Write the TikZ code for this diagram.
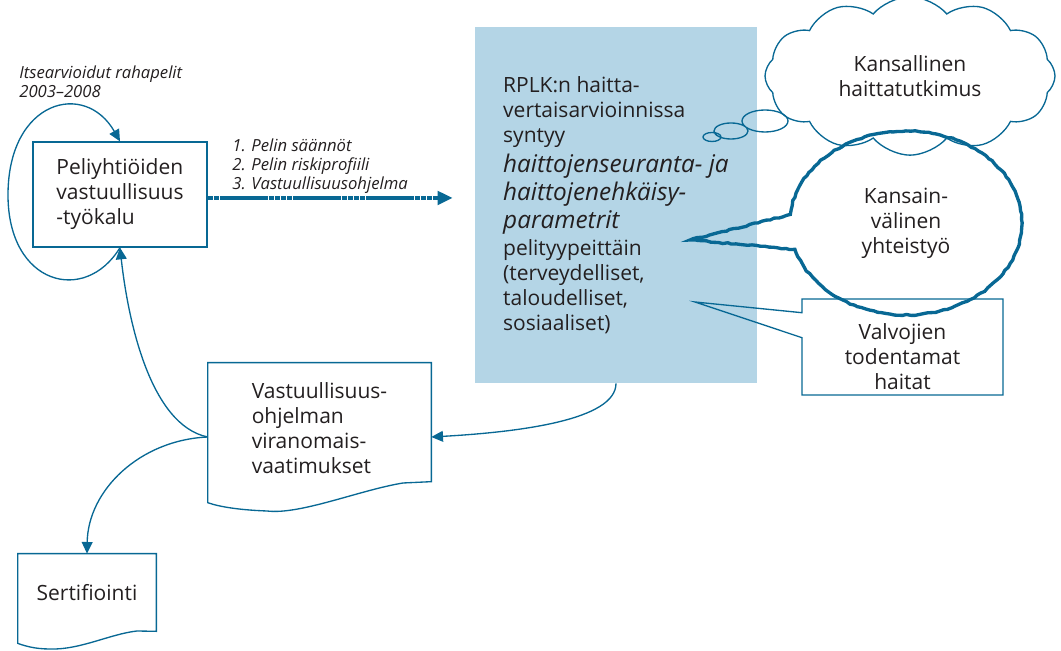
\documentclass[tikz,border=0pt]{standalone}
\usepackage{fontspec}
\setmainfont{Open Sans}
\usetikzlibrary{arrows.meta,calc,shapes.symbols,shapes.callouts,decorations.pathmorphing}

\definecolor{tealline}{RGB}{8,104,148}
\definecolor{paleblue}{RGB}{180,213,230}
\definecolor{inkgray}{RGB}{35,31,32}

\newcommand{\bigit}[1]{{\fontsize{14.6}{16.8}\selectfont\itshape #1}}

\tikzset{
  flow/.style={draw=tealline, line width=0.8pt, -{Triangle[length=7pt,width=6.5pt]}},
  bigflow/.style={draw=tealline, line width=2.4pt, dash pattern=on 3.4pt off 0.25pt,
    -{Triangle[length=9pt,width=8pt]}},
  docline/.style={draw=tealline, line width=0.8pt},
  bodytext/.style={font=\fontsize{12.6}{15}\selectfont, text=inkgray, inner sep=0pt},
  smalllabel/.style={font=\fontsize{10}{11.4}\selectfont\itshape, text=inkgray,
    align=left, inner sep=0pt},
}

\begin{document}
\begin{tikzpicture}[x=0.6pt, y=-0.6pt]
\useasboundingbox (0,0) rectangle (1061,651);

% boxes
\node[bodytext, draw=tealline, line width=0.8pt, align=left,
  minimum width=104.4pt, minimum height=63pt] (tool) at (120,194.5)
  {Peliyhtiöiden\\vastuullisuus\\-työkalu};
\node[smalllabel, anchor=north west] (selfeval) at (19,66) {Itsearvioidut rahapelit\\2003--2008};

\node[bodytext, fill=paleblue, align=left, minimum width=169.2pt, minimum height=213.6pt]
  (rplk) at (616,205)
  {RPLK:n haitta-\\vertaisarvioinnissa\\syntyy\\[3pt]
   \bigit{haittojenseuranta- ja}\\[1.8pt]\bigit{haittojenehkäisy-}\\[1.8pt]
   \bigit{parametrit}\\[1.2pt]pelityypeittäin\\(terveydelliset,\\taloudelliset,\\sosiaaliset)};

\node[smalllabel, anchor=north west] (rules) at (232,139)
  {1. Pelin säännöt\\2. Pelin riskiprofiili\\3. Vastuullisuusohjelma};

% documents
\node[bodytext, align=left, minimum width=133.8pt, minimum height=78pt] (req) at (319.5,428)
  {Vastuullisuus-\\ohjelman\\viranomais-\\vaatimukset};
\draw[docline] ($(req.north east)+(0,119)$) -- (req.north east) -- (req.north west)
  -- ($(req.north west)+(0,140)$) .. controls (220,507) and (240,510) .. (267,511)
  .. controls (300,515) and (360,490) .. (403,483) -- cycle;

\node[bodytext, minimum width=82.8pt, minimum height=46.2pt] (cert) at (87,592.5) {Sertifiointi};
\draw[docline] (cert.south east) -- (cert.north east) -- (cert.north west)
  -- ($(cert.south west)+(0,12)$) .. controls (25,646) and (35,649) .. (50,649)
  .. controls (80,650) and (110,634) .. (137,631) -- cycle;

% cloud and callouts
\node[cloud, cloud puffs=12, cloud puff arc=100, aspect=2.1, draw=tealline, line width=0.8pt,
  minimum width=174pt, minimum height=95pt, bodytext, align=center] (national)
  at (910,76) {Kansallinen\\haittatutkimus};
\draw[tealline, line width=0.8pt] (765,121) ellipse [x radius=23, y radius=11]
  (731,131) ellipse [x radius=17, y radius=8] (712,137) ellipse [x radius=9, y radius=4.5];

\node[ellipse callout, callout absolute pointer={(690,240)}, callout pointer arc=22,
  draw=tealline, line width=2pt, minimum width=139.2pt, minimum height=110.4pt,
  bodytext, align=center, decorate,
  decoration={random steps, segment length=2.5pt, amplitude=0.4pt}] (intl) at (906,223)
  {Kansain-\\välinen\\yhteistyö};

\node[rectangle callout, callout absolute pointer={(695,302)}, callout pointer width=15pt,
  draw=tealline, line width=0.8pt, minimum width=120.6pt, minimum height=57.6pt,
  bodytext, align=center] (watch) at (902.5,347)
  {\rule{0pt}{21pt}Valvojien\\todentamat\\haitat};

% connectors
\draw[bigflow, shorten >=13.2pt] ($(tool.east)+(0,3.5)$) -- ($(tool.east -| rplk.west)+(0,3.5)$);
\draw[flow] (tool.south) .. controls (85,305) and (8,285) .. (8,195)
  .. controls (8,100) and (85,80) .. (tool.north);
\draw[flow] ($(req.west)+(0,9)$) .. controls (150,425) and (128,320) .. (tool.south);
\draw[flow] ($(req.west)+(0,9)$) .. controls (140,440) and (88,490) .. (cert.north);
\draw[flow] (rplk.south) .. controls (616,420) and (520,432) .. ($(req.east)+(0,9)$);
\end{tikzpicture}
\end{document}
